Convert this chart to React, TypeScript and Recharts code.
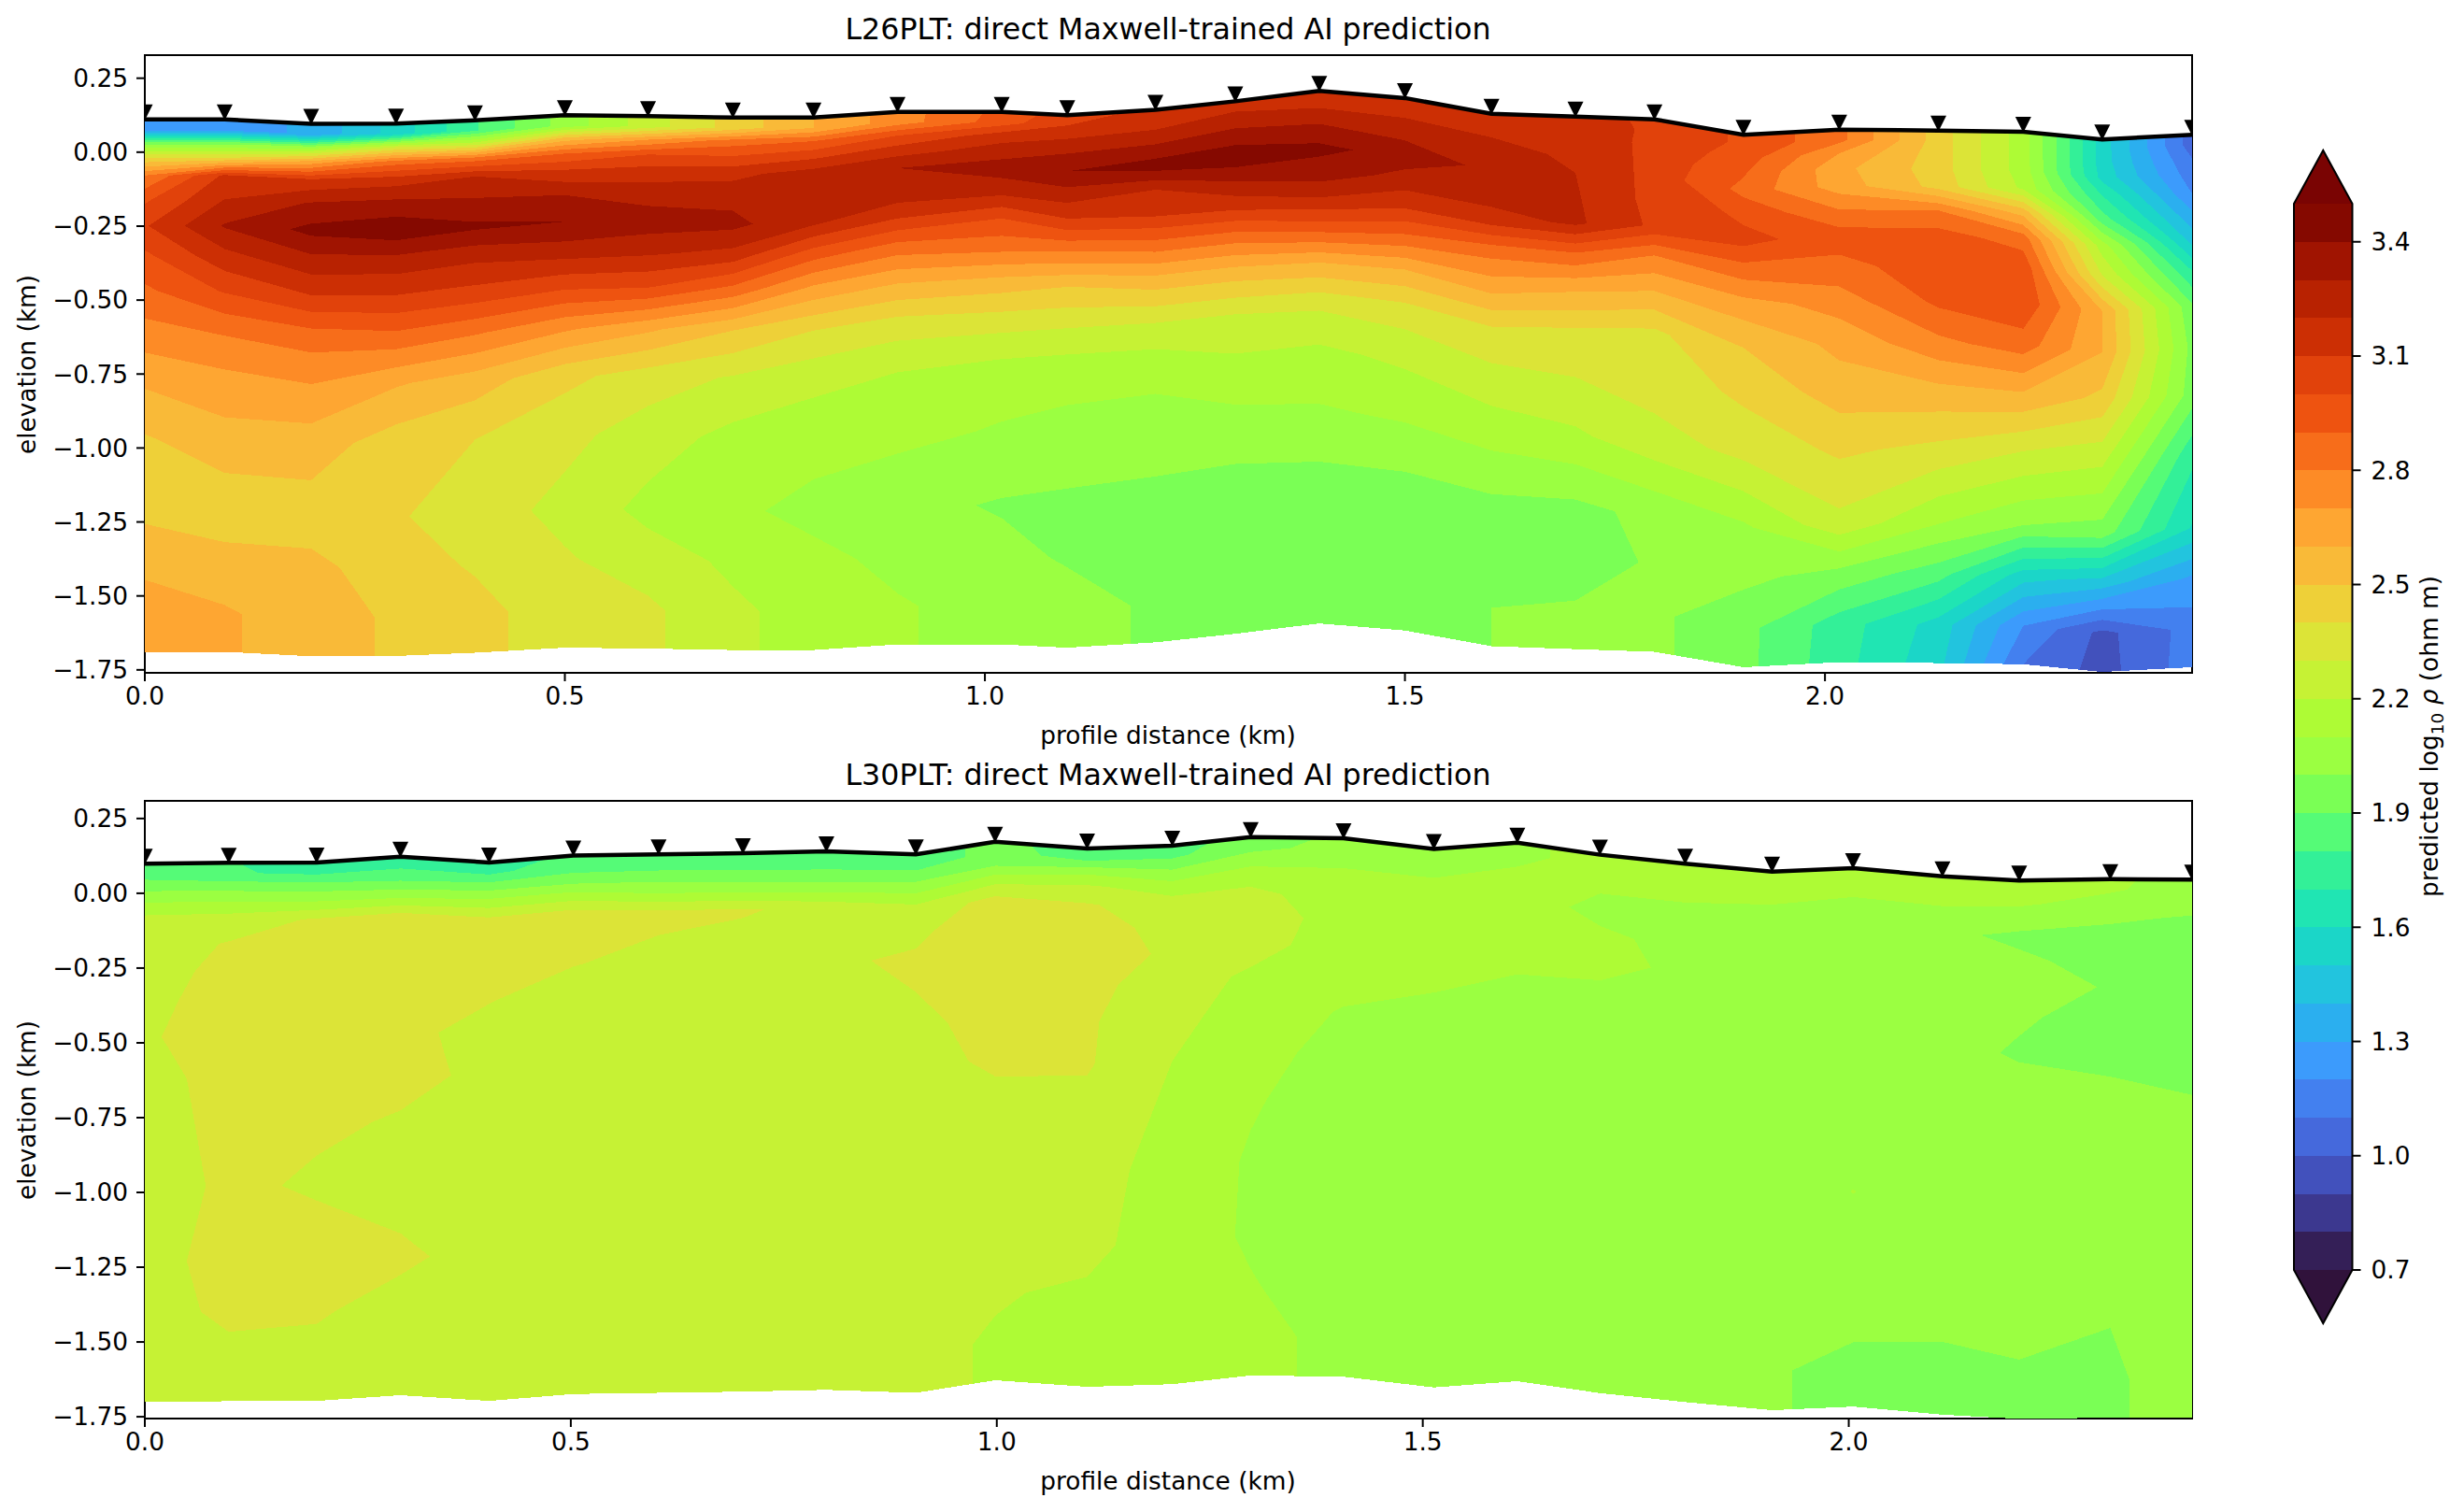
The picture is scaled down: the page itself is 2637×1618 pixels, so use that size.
import React from 'react';
import { ComposedChart, ReferenceArea, Scatter, XAxis, YAxis } from 'recharts';

const FONT = '"DejaVu Sans", sans-serif';

// contour levels of log10 rho, same for both sections and the colorbar
const levels = [
  0.7, 0.8, 0.9, 1.0, 1.1, 1.2, 1.3, 1.4, 1.5, 1.6, 1.7, 1.8, 1.9, 2.0, 2.1, 2.2, 2.3, 2.4, 2.5, 2.6, 2.7, 2.8,
  2.9, 3.0, 3.1, 3.2, 3.3, 3.4, 3.5,
];
// turbo, sampled at the middle of each band
const bandColors = [
  '#341F57', '#3C388F', '#4251BC', '#4569DC', '#4380EF', '#3C9BFC', '#2BAFEF', '#22C4DE', '#1BD6C8', '#20E5B3',
  '#33F098', '#55FB77', '#7AFF55', '#9BFF41', '#AEFB35', '#C6F234', '#DCE437', '#EED038', '#F9BA38', '#FEA632',
  '#FD8B26', '#F76D1A', '#EE5310', '#E1420B', '#CC2F04', '#B82201', '#A01401', '#850900',
];
const colorbarTicks = [0.7, 1.0, 1.3, 1.6, 1.9, 2.2, 2.5, 2.8, 3.1, 3.4];
const distanceTicks = [0, 0.5, 1, 1.5, 2];
const elevationTicks = [0.25, 0, -0.25, -0.5, -0.75, -1, -1.25, -1.5, -1.75];

// model rows, km below the surface
const depths = [0, 0.035, 0.08, 0.13, 0.19, 0.27, 0.36, 0.46, 0.58, 0.72, 0.88, 1.08, 1.33, 1.5, 1.67, 1.8];

// L26PLT
const stationsL26 = [
  0, 0.095, 0.198, 0.299, 0.393, 0.5, 0.599, 0.7, 0.796, 0.896, 1.02, 1.098, 1.203, 1.298, 1.398, 1.5, 1.603, 1.703,
  1.797, 1.903, 2.017, 2.135, 2.236, 2.33, 2.437,
];
const surfaceL26 = [
  0.111, 0.111, 0.096, 0.097, 0.108, 0.125, 0.122, 0.117, 0.117, 0.136, 0.136, 0.125, 0.143, 0.172, 0.207, 0.183,
  0.13, 0.12, 0.111, 0.059, 0.076, 0.073, 0.069, 0.043, 0.059,
];
// one line per station, top to bottom
const rhoL26 = [
  [1.25, 1.25, 1.95, 2.4, 2.8, 2.98, 3.09, 2.98, 2.88, 2.76, 2.62, 2.49, 2.48, 2.57, 2.66, 2.66],
  [1.25, 1.25, 1.95, 2.4, 3.12, 3.2, 3.31, 3.17, 3.01, 2.81, 2.67, 2.56, 2.43, 2.55, 2.61, 2.61],
  [1.32, 1.32, 2.05, 2.65, 3.12, 3.31, 3.43, 3.27, 3.1, 2.85, 2.7, 2.55, 2.45, 2.53, 2.56, 2.56],
  [1.54, 1.54, 2.3, 2.85, 3.15, 3.33, 3.47, 3.27, 3.1, 2.87, 2.61, 2.45, 2.41, 2.44, 2.48, 2.48],
  [1.79, 1.79, 2.25, 2.85, 3.2, 3.31, 3.42, 3.23, 3.07, 2.81, 2.55, 2.4, 2.35, 2.39, 2.43, 2.43],
  [2.04, 2.04, 2.55, 2.9, 3.12, 3.3, 3.4, 3.25, 3.02, 2.72, 2.43, 2.33, 2.27, 2.31, 2.35, 2.35],
  [2.25, 2.25, 2.7, 3.0, 3.15, 3.27, 3.35, 3.22, 3.0, 2.62, 2.35, 2.25, 2.17, 2.25, 2.32, 2.32],
  [2.44, 2.44, 2.85, 3.0, 3.17, 3.27, 3.33, 3.17, 2.87, 2.5, 2.29, 2.17, 2.12, 2.18, 2.22, 2.22],
  [2.6, 2.6, 2.9, 3.07, 3.25, 3.28, 3.21, 2.95, 2.67, 2.4, 2.23, 2.14, 2.07, 2.13, 2.16, 2.16],
  [2.75, 2.75, 3.0, 3.15, 3.3, 3.27, 3.1, 2.85, 2.6, 2.35, 2.2, 2.13, 2.03, 2.07, 2.11, 2.11],
  [2.93, 2.95, 3.15, 3.25, 3.35, 3.23, 3.0, 2.83, 2.55, 2.33, 2.15, 2.09, 1.99, 2.03, 2.06, 2.06],
  [3.05, 3.1, 3.2, 3.3, 3.4, 3.25, 3.08, 2.8, 2.5, 2.3, 2.12, 2.08, 1.97, 1.99, 2.05, 2.05],
  [3.12, 3.15, 3.22, 3.33, 3.45, 3.2, 3.1, 2.85, 2.55, 2.3, 2.12, 2.07, 1.96, 1.96, 1.98, 1.98],
  [3.15, 3.2, 3.28, 3.37, 3.47, 3.3, 3.12, 2.85, 2.55, 2.3, 2.18, 2.07, 1.95, 1.94, 1.96, 1.96],
  [3.15, 3.15, 3.25, 3.33, 3.42, 3.37, 3.2, 2.95, 2.6, 2.32, 2.18, 2.09, 1.96, 1.93, 1.95, 1.95],
  [3.12, 3.15, 3.22, 3.28, 3.37, 3.26, 3.13, 2.9, 2.6, 2.35, 2.22, 2.11, 1.96, 1.94, 1.96, 1.96],
  [3.12, 3.15, 3.2, 3.24, 3.27, 3.25, 3.15, 2.85, 2.65, 2.4, 2.27, 2.14, 1.97, 1.96, 2.0, 2.0],
  [3.12, 3.13, 3.15, 3.18, 3.2, 3.21, 3.22, 2.9, 2.62, 2.39, 2.3, 2.18, 1.97, 1.96, 2.01, 2.01],
  [3.09, 3.09, 3.08, 3.07, 3.065, 3.065, 3.08, 2.8, 2.6, 2.38, 2.34, 2.27, 2.03, 2.01, 2.02, 2.02],
  [2.98, 2.98, 2.95, 2.91, 2.87, 2.98, 3.03, 2.85, 2.65, 2.5, 2.42, 2.32, 2.08, 2.02, 1.93, 1.93],
  [2.83, 2.83, 2.7, 2.63, 2.65, 2.8, 2.95, 2.87, 2.75, 2.63, 2.55, 2.42, 2.27, 1.97, 1.75, 1.74],
  [2.45, 2.45, 2.45, 2.45, 2.47, 2.8, 2.95, 2.95, 2.92, 2.77, 2.57, 2.37, 2.1, 1.84, 1.56, 1.53],
  [2.15, 2.15, 2.15, 2.15, 2.18, 2.55, 2.85, 2.97, 2.98, 2.85, 2.6, 2.3, 2.0, 1.55, 1.2, 1.1],
  [1.55, 1.55, 1.55, 1.57, 1.7, 1.85, 2.15, 2.3, 2.6, 2.6, 2.47, 2.23, 1.95, 1.45, 0.97, 0.96],
  [1.05, 1.05, 1.1, 1.14, 1.19, 1.32, 1.47, 1.7, 1.92, 1.97, 1.95, 1.73, 1.59, 1.28, 1.14, 1.15],
];

// L30PLT
const stationsL30 = [
  0, 0.0985, 0.2016, 0.3, 0.404, 0.503, 0.603, 0.702, 0.8, 0.905, 0.998, 1.106, 1.206, 1.298, 1.407, 1.513, 1.611,
  1.708, 1.808, 1.91, 2.005, 2.11, 2.2, 2.307, 2.403,
];
const surfaceL30 = [
  0.099, 0.102, 0.103, 0.122, 0.103, 0.126, 0.13, 0.134, 0.14, 0.13, 0.172, 0.15, 0.159, 0.188, 0.184, 0.148, 0.169,
  0.129, 0.099, 0.072, 0.084, 0.057, 0.043, 0.047, 0.046,
];
const rhoL30 = [
  [1.85, 1.85, 1.97, 2.1, 2.24, 2.26, 2.27, 2.28, 2.29, 2.27, 2.27, 2.26, 2.27, 2.26, 2.25, 2.25],
  [1.81, 1.81, 1.96, 2.1, 2.25, 2.305, 2.32, 2.33, 2.34, 2.33, 2.32, 2.315, 2.33, 2.32, 2.27, 2.27],
  [1.72, 1.78, 1.95, 2.1, 2.31, 2.34, 2.35, 2.35, 2.34, 2.33, 2.31, 2.29, 2.34, 2.31, 2.27, 2.27],
  [1.78, 1.79, 1.9, 2.07, 2.31, 2.33, 2.34, 2.34, 2.33, 2.32, 2.295, 2.25, 2.32, 2.27, 2.24, 2.24],
  [1.72, 1.78, 1.95, 2.13, 2.32, 2.33, 2.32, 2.305, 2.26, 2.285, 2.24, 2.22, 2.26, 2.24, 2.23, 2.23],
  [1.83, 1.85, 1.95, 2.13, 2.33, 2.32, 2.305, 2.26, 2.24, 2.24, 2.23, 2.23, 2.23, 2.23, 2.23, 2.23],
  [1.85, 1.85, 1.97, 2.1, 2.31, 2.3, 2.27, 2.25, 2.24, 2.24, 2.23, 2.23, 2.23, 2.24, 2.24, 2.24],
  [1.85, 1.85, 1.95, 2.1, 2.31, 2.28, 2.26, 2.25, 2.24, 2.24, 2.23, 2.23, 2.24, 2.24, 2.24, 2.24],
  [1.85, 1.85, 1.94, 2.08, 2.27, 2.28, 2.29, 2.28, 2.26, 2.25, 2.24, 2.24, 2.24, 2.24, 2.23, 2.23],
  [1.85, 1.85, 1.97, 2.1, 2.26, 2.29, 2.31, 2.3, 2.28, 2.26, 2.25, 2.24, 2.23, 2.23, 2.225, 2.225],
  [1.93, 1.93, 2.0, 2.17, 2.32, 2.34, 2.36, 2.35, 2.33, 2.32, 2.27, 2.25, 2.22, 2.21, 2.19, 2.19],
  [1.85, 1.87, 2.08, 2.22, 2.31, 2.35, 2.36, 2.34, 2.31, 2.31, 2.27, 2.24, 2.23, 2.18, 2.15, 2.15],
  [1.85, 1.88, 2.0, 2.13, 2.24, 2.26, 2.28, 2.23, 2.24, 2.2, 2.18, 2.16, 2.14, 2.13, 2.13, 2.13],
  [1.95, 1.97, 2.06, 2.17, 2.22, 2.24, 2.23, 2.19, 2.14, 2.13, 2.11, 2.09, 2.09, 2.105, 2.13, 2.13],
  [2.02, 2.04, 2.08, 2.13, 2.16, 2.17, 2.16, 2.13, 2.095, 2.07, 2.05, 2.05, 2.05, 2.06, 2.07, 2.07],
  [2.02, 2.05, 2.09, 2.12, 2.15, 2.16, 2.14, 2.11, 2.05, 2.05, 2.04, 2.04, 2.04, 2.05, 2.05, 2.05],
  [2.08, 2.08, 2.1, 2.13, 2.15, 2.16, 2.14, 2.09, 2.04, 2.04, 2.04, 2.04, 2.04, 2.04, 2.04, 2.04],
  [2.13, 2.13, 2.12, 2.1, 2.07, 2.12, 2.13, 2.08, 2.04, 2.03, 2.03, 2.03, 2.03, 2.03, 2.03, 2.03],
  [2.15, 2.15, 2.13, 2.1, 2.08, 2.07, 2.08, 2.03, 2.03, 2.03, 2.03, 2.03, 2.03, 2.03, 2.03, 2.03],
  [2.15, 2.15, 2.13, 2.08, 2.06, 2.05, 2.03, 2.03, 2.03, 2.03, 2.04, 2.04, 2.04, 2.03, 2.01, 2.01],
  [2.15, 2.15, 2.11, 2.08, 2.06, 2.05, 2.04, 2.03, 2.03, 2.04, 2.05, 2.102, 2.05, 2.03, 1.97, 1.97],
  [2.15, 2.15, 2.12, 2.07, 2.02, 2.05, 2.04, 2.03, 2.03, 2.03, 2.04, 2.04, 2.04, 2.02, 1.96, 1.96],
  [2.15, 2.15, 2.11, 2.04, 1.98, 2.02, 2.03, 2.01, 1.99, 2.04, 2.05, 2.05, 2.05, 2.03, 1.98, 1.98],
  [2.12, 2.11, 2.07, 2.015, 1.97, 1.96, 1.995, 1.97, 1.96, 2.03, 2.05, 2.05, 2.05, 2.0, 1.985, 1.985],
  [2.06, 2.06, 2.04, 1.99, 1.97, 1.96, 1.95, 1.95, 1.97, 2.0, 2.04, 2.05, 2.05, 2.04, 2.05, 2.05],
];

type Vert = { x: number; y: number; v: number };

// keep the part of a polygon on one side of a level (Sutherland-Hodgman on the value)
const clipLevel = (poly: Vert[], level: number, above: boolean) => {
  const out: Vert[] = [];
  const inside = (p: Vert) => (above ? p.v >= level : p.v <= level);
  poly.forEach((p, i) => {
    const q = poly[(i + 1) % poly.length];
    if (inside(p)) out.push(p);
    if (inside(p) !== inside(q)) {
      const f = (level - p.v) / (q.v - p.v);
      out.push({ x: p.x + f * (q.x - p.x), y: p.y + f * (q.y - p.y), v: level });
    }
  });
  return out;
};

// filled contours over the pixel positions recharts gives for the grid nodes
const contourBands = (points: { x: number; y: number }[], rho: number[][]) => {
  const nRow = depths.length;
  const d: string[] = bandColors.map(() => '');
  for (let i = 0; i < rho.length - 1; i++) {
    for (let j = 0; j < nRow - 1; j++) {
      const ids: [number, number][] = [
        [i, j],
        [i + 1, j],
        [i + 1, j + 1],
        [i, j + 1],
      ];
      const quad = ids.map(([a, b]) => ({ ...points[a * nRow + b], v: rho[a][b] }));
      for (let k = 0; k < d.length; k++) {
        const poly = clipLevel(clipLevel(quad, levels[k], true), levels[k + 1], false);
        if (poly.length > 2) {
          d[k] += 'M' + poly.map((p) => `${p.x.toFixed(2)} ${p.y.toFixed(2)}`).join('L') + 'Z';
        }
      }
    }
  }
  return d;
};

const Marker = (props: any) => {
  const { cx, cy } = props;
  return <path d={`M${cx - 8.5} ${cy - 16}H${cx + 8.5}L${cx + 1} ${cy - 1}H${cx - 1}Z`} fill="#000" />;
};

type SectionProps = {
  title: string;
  top: number;
  stations: number[];
  surface: number[];
  rho: number[][];
  xMax: number;
  yMin: number;
  yMax: number;
};

const Section = ({ title, top, stations, surface, rho, xMax, yMin, yMax }: SectionProps) => {
  const nodes = stations.flatMap((x, i) => depths.map((dz) => ({ x, y: surface[i] - dz })));
  const surfacePoints = stations.map((x, i) => ({ x, y: surface[i] }));
  const tickStyle = { fontSize: 26.4, fontFamily: FONT, fill: '#000' };
  return (
    <div style={{ position: 'absolute', left: 0, top }}>
      <ComposedChart width={2400} height={820} margin={{ top: 59, right: 54, bottom: 20, left: 0 }}>
        <XAxis
          dataKey="x"
          type="number"
          domain={[0, xMax]}
          ticks={distanceTicks}
          allowDataOverflow
          height={80}
          stroke="#000"
          strokeWidth={2}
          tick={tickStyle}
          tickSize={9}
          tickMargin={6}
          tickFormatter={(v: number) => v.toFixed(1)}
        />
        <YAxis
          dataKey="y"
          type="number"
          domain={[yMin, yMax]}
          ticks={elevationTicks}
          allowDataOverflow
          width={155}
          stroke="#000"
          strokeWidth={2}
          tick={tickStyle}
          tickSize={9}
          tickMargin={9}
          tickFormatter={(v: number) => v.toFixed(2).replace('-', '\u2212')}
        />
        <Scatter
          data={nodes}
          isAnimationActive={false}
          shape={() => <g />}
          line={(p: any) => (
            <g>
              {contourBands(p.points, rho).map((d, k) => (
                <path key={k} d={d} fill={bandColors[k]} stroke="none" shapeRendering="crispEdges" />
              ))}
            </g>
          )}
        />
        <Scatter
          data={surfacePoints}
          isAnimationActive={false}
          shape={<Marker />}
          line={{ stroke: '#000', strokeWidth: 4.5 }}
          lineJointType="linear"
        />
        <ReferenceArea x1={0} x2={xMax} y1={yMin} y2={yMax} fill="none" stroke="#000" strokeWidth={2} ifOverflow="visible" />
        <text x={1250} y={42} textAnchor="middle" fontSize={31.7} fontFamily={FONT} fill="#000">
          {title}
        </text>
        <text x={1250} y={796} textAnchor="middle" fontSize={26.4} fontFamily={FONT} fill="#000">
          profile distance (km)
        </text>
        <text
          x={38}
          y={390}
          textAnchor="middle"
          fontSize={26.4}
          fontFamily={FONT}
          fill="#000"
          transform="rotate(-90 38 390)"
        >
          elevation (km)
        </text>
      </ComposedChart>
    </div>
  );
};

const EXTEND = 0.14; // length of the colorbar end triangles, in data units

const Colorbar = () => {
  const top = levels[levels.length - 1];
  const bottom = levels[0];
  const outline = (props: any) => {
    const { x, y, width, height } = props;
    const tip = (EXTEND * height) / (top - bottom + 2 * EXTEND);
    return (
      <path
        d={`M${x} ${y + tip}L${x + width / 2} ${y}L${x + width} ${y + tip}V${y + height - tip}L${x + width / 2} ${y + height}L${x} ${y + height - tip}Z`}
        fill="none"
        stroke="#000"
        strokeWidth={2}
      />
    );
  };
  const upward = (fill: string) => (props: any) => {
    const { x, y, width, height } = props;
    return <path d={`M${x} ${y + height}L${x + width / 2} ${y}L${x + width} ${y + height}Z`} fill={fill} />;
  };
  const downward = (fill: string) => (props: any) => {
    const { x, y, width, height } = props;
    return <path d={`M${x} ${y}L${x + width / 2} ${y + height}L${x + width} ${y}Z`} fill={fill} />;
  };
  return (
    <div style={{ position: 'absolute', left: 2400, top: 0 }}>
      <ComposedChart width={237} height={1618} margin={{ top: 218, right: 0, bottom: 259, left: 55 }}>
        <XAxis type="number" dataKey="x" domain={[0, 1]} hide height={0} />
        <YAxis
          type="number"
          dataKey="y"
          orientation="right"
          domain={[bottom, top]}
          ticks={colorbarTicks}
          width={119.5}
          axisLine={false}
          stroke="#000"
          strokeWidth={2}
          tick={{ fontSize: 26.4, fontFamily: FONT, fill: '#000' }}
          tickSize={9}
          tickMargin={11}
          tickFormatter={(v: number) => v.toFixed(1)}
        />
        <Scatter
          data={[
            { x: 0, y: bottom },
            { x: 1, y: top },
          ]}
          isAnimationActive={false}
          shape={() => <g />}
        />
        {bandColors.map((color, k) => (
          <ReferenceArea key={k} y1={levels[k]} y2={levels[k + 1]} x1={0} x2={1} fill={color} fillOpacity={1} stroke="none" shapeRendering="crispEdges" />
        ))}
        <ReferenceArea y1={top} y2={top + EXTEND} x1={0} x2={1} ifOverflow="visible" shape={upward('#7a0403')} />
        <ReferenceArea y1={bottom - EXTEND} y2={bottom} x1={0} x2={1} ifOverflow="visible" shape={downward('#30123b')} />
        <ReferenceArea y1={bottom - EXTEND} y2={top + EXTEND} x1={0} x2={1} ifOverflow="visible" shape={outline} />
        <text
          x={209}
          y={788}
          textAnchor="middle"
          fontSize={26.4}
          fontFamily={FONT}
          fill="#000"
          transform="rotate(-90 209 788)"
        >
          predicted log
          <tspan fontSize={18.5} dy={6}>
            10
          </tspan>
          <tspan dy={-6} fontStyle="italic">
            {' \u03c1'}
          </tspan>
          {' (ohm m)'}
        </text>
      </ComposedChart>
    </div>
  );
};

export default function App() {
  return (
    <div style={{ position: 'absolute', left: 0, top: 0, width: 2637, height: 1618, background: '#fff', overflow: 'hidden' }}>
      <Section
        title="L26PLT: direct Maxwell-trained AI prediction"
        top={0}
        stations={stationsL26}
        surface={surfaceL26}
        rho={rhoL26}
        xMax={2.437}
        yMin={-1.76}
        yMax={0.328}
      />
      <Section
        title="L30PLT: direct Maxwell-trained AI prediction"
        top={798}
        stations={stationsL30}
        surface={surfaceL30}
        rho={rhoL30}
        xMax={2.403}
        yMin={-1.756}
        yMax={0.309}
      />
      <Colorbar />
    </div>
  );
}
